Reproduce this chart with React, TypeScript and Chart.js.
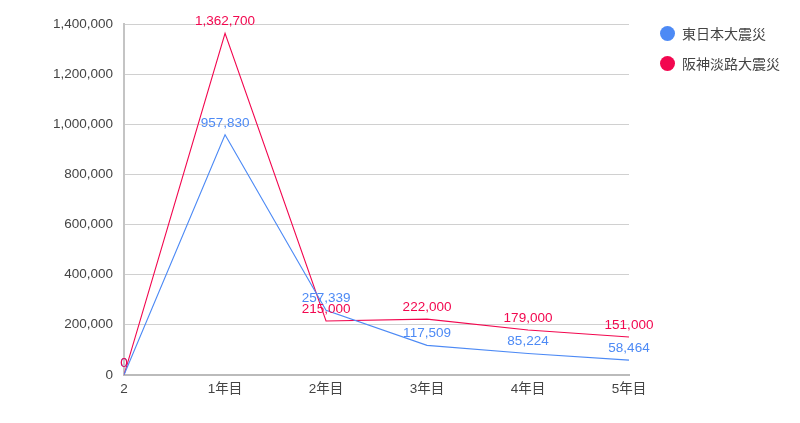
import React, { useEffect, useRef } from "react";
import { Chart, registerables } from "chart.js";

Chart.register(...registerables);

const categories = ["2", "1年目", "2年目", "3年目", "4年目", "5年目"];
const higashiValues = [0, 957830, 257339, 117509, 85224, 58464];
const hanshinValues = [0, 1362700, 215000, 222000, 179000, 151000];
const seriesNames = ["東日本大震災", "阪神淡路大震災"];
const seriesColors = ["#4d8af5", "#f2074f"];

const FONT = "'Liberation Sans', Arial, 'Noto Sans CJK JP', sans-serif";

// draws the value above each point
const valueLabels = {
    id: "valueLabels",
    afterDatasetsDraw(chart: any) {
        const ctx = chart.ctx;
        ctx.save();
        ctx.font = `13.5px ${FONT}`;
        ctx.textAlign = "center";
        ctx.textBaseline = "middle";
        chart.data.datasets.forEach((ds: any, i: number) => {
            const meta = chart.getDatasetMeta(i);
            ctx.fillStyle = ds.borderColor;
            meta.data.forEach((pt: any, j: number) => {
                ctx.fillText(Number(ds.data[j]).toLocaleString("en-US"), pt.x, pt.y - 12);
            });
        });
        ctx.restore();
    },
};

const App = () => {
    const canvasRef = useRef<HTMLCanvasElement | null>(null);

    useEffect(() => {
        document.body.style.margin = "0";
        const ctx = canvasRef.current?.getContext("2d");
        if (!ctx) return;

        const chart = new Chart(ctx, {
            type: "line",
            data: {
                labels: categories,
                datasets: [
                    {
                        label: seriesNames[0],
                        data: higashiValues,
                        borderColor: seriesColors[0],
                        backgroundColor: seriesColors[0],
                        borderWidth: 1.1,
                        pointRadius: 0,
                        tension: 0,
                    },
                    {
                        label: seriesNames[1],
                        data: hanshinValues,
                        borderColor: seriesColors[1],
                        backgroundColor: seriesColors[1],
                        borderWidth: 1.1,
                        pointRadius: 0,
                        tension: 0,
                    },
                ],
            },
            options: {
                animation: false,
                responsive: true,
                maintainAspectRatio: false,
                locale: "en-US",
                layout: { padding: { left: 42, right: 171, top: 24, bottom: 20 } },
                plugins: {
                    legend: { display: false },
                    tooltip: { enabled: false },
                },
                scales: {
                    x: {
                        grid: { display: false, drawTicks: false },
                        border: { color: "#bbbbbb", width: 2 },
                        ticks: { color: "#444", padding: 6, font: { family: FONT, size: 13.5 } },
                    },
                    y: {
                        min: 0,
                        max: 1400000,
                        grid: { color: "#d0d0d0", drawTicks: false },
                        border: { color: "#c4c4c4", width: 2 },
                        ticks: {
                            stepSize: 200000,
                            color: "#444",
                            padding: 11,
                            font: { family: FONT, size: 13.5 },
                        },
                    },
                },
            },
            plugins: [valueLabels],
        });

        return () => {
            chart.destroy();
        };
    }, []);

    return (
        <div style={{ position: "relative", width: 800, height: 423, background: "#fff" }}>
            <canvas ref={canvasRef} />
            <div style={{ position: "absolute", left: 660, top: 25, fontFamily: FONT, fontSize: 14, color: "#444" }}>
                {seriesNames.map((name, i) => (
                    <div key={name} style={{ display: "flex", alignItems: "center", height: 16, marginBottom: 14 }}>
                        <span
                            style={{
                                display: "inline-block",
                                width: 15,
                                height: 15,
                                borderRadius: "50%",
                                background: seriesColors[i],
                                marginRight: 7,
                            }}
                        />
                        <span>{name}</span>
                    </div>
                ))}
            </div>
        </div>
    );
};

export default App;
